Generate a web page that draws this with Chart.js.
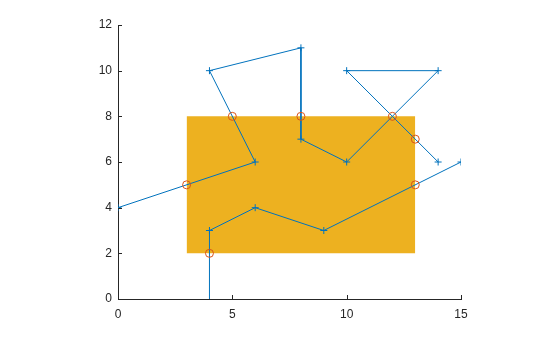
<!DOCTYPE html>
<html lang="en">
<head>
    <meta charset="UTF-8">
    <title>Polygon clip</title>
    <script src="https://cdn.jsdelivr.net/npm/chart.js"></script>
    <style>
        html, body {
            margin: 0;
            padding: 0;
            background: white;
        }
        .wrap {
            width: 560px;
            height: 337px;
        }
    </style>
</head>
<body>
    <div class="wrap">
        <canvas id="chart" width="560" height="337"></canvas>
    </div>

    <script>
        // line with crosses, first part
        const pathAX = [0, 6, 4, 8, 8, 10, 14, 10, 14];
        const pathAY = [4, 6, 10, 11, 7, 6, 10, 10, 6];
        // second part
        const pathBX = [4, 4, 6, 9, 15];
        const pathBY = [0, 3, 4, 3, 6];
        // rectangle (clip box)
        const rectX = [3, 13];
        const rectY = [2, 8];
        // intersection points
        const hitX = [3, 5, 8, 12, 13, 13, 4];
        const hitY = [5, 8, 8, 8, 7, 5, 2];

        const xTicks = [0, 5, 10, 15];
        const yTicks = [0, 2, 4, 6, 8, 10, 12];

        const toPoints = (xs, ys) => xs.map((x, i) => ({ x: x, y: ys[i] }));

        const axisColor = '#262626';

        // octave style ticks pointing inside the box
        const innerTicks = {
            id: 'innerTicks',
            afterDraw(chart) {
                let ctx = chart.ctx;
                let xs = chart.scales.x, ys = chart.scales.y;
                let area = chart.chartArea;
                ctx.save();
                ctx.strokeStyle = axisColor;
                ctx.lineWidth = 1;
                ctx.beginPath();
                xTicks.forEach(v => {
                    let px = Math.round(xs.getPixelForValue(v)) + 0.5;
                    ctx.moveTo(px, area.bottom);
                    ctx.lineTo(px, area.bottom - 4);
                });
                yTicks.forEach(v => {
                    let py = Math.round(ys.getPixelForValue(v)) + 0.5;
                    ctx.moveTo(area.left, py);
                    ctx.lineTo(area.left + 4, py);
                });
                ctx.stroke();
                ctx.restore();
            }
        };

        new Chart(document.getElementById('chart'), {
            type: 'scatter',
            data: {
                datasets: [
                    {
                        data: toPoints(rectX, [rectY[1], rectY[1]]),
                        order: 3,
                        showLine: true,
                        borderWidth: 0,
                        borderColor: 'rgba(0,0,0,0)',
                        backgroundColor: '#EDB120',
                        fill: { value: rectY[0] },
                        pointRadius: 0
                    },
                    {
                        data: toPoints(pathAX, pathAY),
                        order: 2,
                        showLine: true,
                        borderColor: '#0072BD',
                        borderWidth: 1,
                        pointStyle: 'cross',
                        pointRadius: 3.5,
                        pointBorderWidth: 1,
                        pointBorderColor: '#0072BD',
                        fill: false
                    },
                    {
                        data: toPoints(pathBX, pathBY),
                        order: 2,
                        showLine: true,
                        borderColor: '#0072BD',
                        borderWidth: 1,
                        pointStyle: 'cross',
                        pointRadius: [0, 3.5, 3.5, 3.5, 3.5],
                        pointBorderWidth: 1,
                        pointBorderColor: '#0072BD',
                        fill: false
                    },
                    {
                        data: toPoints(hitX, hitY),
                        order: 1,
                        showLine: false,
                        pointStyle: 'circle',
                        pointRadius: 4,
                        pointBorderWidth: 1,
                        pointBorderColor: '#D95319',
                        pointBackgroundColor: 'rgba(0,0,0,0)'
                    }
                ]
            },
            options: {
                responsive: false,
                animation: false,
                layout: { padding: { left: 0, right: 99, top: 25, bottom: 0 } },
                plugins: { legend: { display: false }, tooltip: { enabled: false } },
                scales: {
                    x: {
                        type: 'linear',
                        min: 0,
                        max: 15,
                        afterFit: s => { s.height = 38; },
                        afterBuildTicks: s => { s.ticks = xTicks.map(v => ({ value: v })); },
                        grid: { drawOnChartArea: false, drawTicks: false },
                        border: { color: axisColor, width: 1 },
                        ticks: {
                            padding: 8,
                            color: axisColor,
                            font: { family: 'Liberation Sans, Arial, sans-serif', size: 12 }
                        }
                    },
                    y: {
                        type: 'linear',
                        min: 0,
                        max: 12,
                        afterFit: s => { s.width = 118; },
                        afterBuildTicks: s => { s.ticks = yTicks.map(v => ({ value: v })); },
                        grid: { drawOnChartArea: false, drawTicks: false },
                        border: { color: axisColor, width: 1 },
                        ticks: {
                            padding: 6,
                            color: axisColor,
                            font: { family: 'Liberation Sans, Arial, sans-serif', size: 12 }
                        }
                    }
                }
            },
            plugins: [innerTicks]
        });
    </script>
</body>
</html>
